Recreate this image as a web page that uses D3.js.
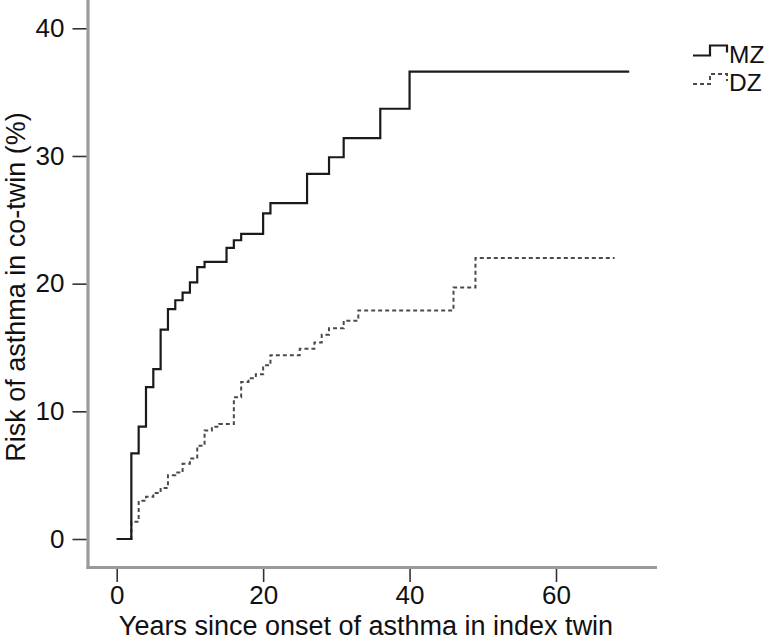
<!DOCTYPE html>
<html>
<head>
<meta charset="utf-8">
<script src="https://cdn.jsdelivr.net/npm/d3@7"></script>
<style>
  html, body { margin: 0; padding: 0; background: #fff; }
  svg { display: block; }
  text { font-family: "Liberation Sans", Arial, Helvetica, sans-serif; fill: #111; }
</style>
</head>
<body>
<svg id="chart" width="772" height="641"></svg>
<script>
// ---- Data ----
const mzYears = [0, 2, 3, 4, 5, 6, 7, 8, 9, 10, 11, 12, 15, 16, 17, 20, 21, 26, 29, 31, 36, 40, 70];
const mzRisk  = [0, 6.7, 8.8, 11.9, 13.3, 16.4, 18.0, 18.7, 19.3, 20.1, 21.3, 21.7, 22.8, 23.4, 23.9, 25.5, 26.3, 28.6, 29.9, 31.4, 33.7, 36.6, 36.6];

const dzYears = [0, 2, 3, 4, 5, 6, 7, 8, 9, 10, 11, 12, 13, 14, 16, 17, 18, 19, 20, 21, 25, 27, 28, 29, 31, 33, 46, 49, 68];
const dzRisk  = [0, 1.35, 3.0, 3.3, 3.6, 4.0, 5.0, 5.2, 5.9, 6.3, 7.3, 8.5, 8.8, 9.0, 11.1, 12.3, 12.6, 12.9, 13.6, 14.4, 14.9, 15.4, 16.0, 16.5, 17.1, 17.9, 19.7, 22.0, 22.0];

const xTicks = [0, 20, 40, 60];
const yTicks = [0, 10, 20, 30, 40];
const seriesNames = ["MZ", "DZ"];
const xTitle = "Years since onset of asthma in index twin";
const yTitle = "Risk of asthma in co-twin (%)";

// ---- Layout ----
const svg = d3.select("#chart");
const x = d3.scaleLinear().domain([0, 60]).range([116.7, 556]);
const y = d3.scaleLinear().domain([0, 40]).range([539, 28.3]);
const axisX = 88, axisY = 567.5, axisRight = 657;
const tickFont = 26, titleFont = 27, legendFont = 24.5;
const ff = '"Liberation Sans", Arial, Helvetica, sans-serif';

// Axis lines (thick grey)
svg.append("line").attr("x1", axisX).attr("x2", axisX).attr("y1", 0).attr("y2", axisY + 1.5)
  .attr("stroke", "#9a9a9a").attr("stroke-width", 3.2);
svg.append("line").attr("x1", axisX - 1.5).attr("x2", axisRight).attr("y1", axisY).attr("y2", axisY)
  .attr("stroke", "#9a9a9a").attr("stroke-width", 3.2);

// Y axis
const gy = svg.append("g").attr("transform", `translate(${axisX - 1.5},0)`)
  .call(d3.axisLeft(y).tickValues(yTicks).tickSize(14).tickPadding(8).tickFormat(d3.format("d")));
gy.select(".domain").remove();
gy.selectAll(".tick line").attr("stroke", "#333").attr("stroke-width", 1.6);
gy.selectAll(".tick text").attr("font-size", tickFont).attr("fill", "#111").attr("font-family", ff);

// X axis
const gx = svg.append("g").attr("transform", `translate(0,${axisY + 1.5})`)
  .call(d3.axisBottom(x).tickValues(xTicks).tickSize(13).tickPadding(4).tickFormat(d3.format("d")));
gx.select(".domain").remove();
gx.selectAll(".tick line").attr("stroke", "#333").attr("stroke-width", 1.6);
gx.selectAll(".tick text").attr("font-size", tickFont).attr("fill", "#111").attr("font-family", ff);

// Axis titles
svg.append("text").attr("x", 366).attr("y", 635).attr("text-anchor", "middle")
  .attr("font-size", titleFont).text(xTitle);
svg.append("text").attr("transform", "translate(25,287) rotate(-90)").attr("text-anchor", "middle")
  .attr("font-size", titleFont).text(yTitle);

// Step curves
const line = d3.line().x(d => x(d[0])).y(d => y(d[1])).curve(d3.curveStepAfter);
const mzData = mzYears.map((v, i) => [v, mzRisk[i]]);
const dzData = dzYears.map((v, i) => [v, dzRisk[i]]);

svg.append("path").datum(dzData).attr("d", line)
  .attr("fill", "none").attr("stroke", "#4a4a4a").attr("stroke-width", 2)
  .attr("stroke-dasharray", "4,3");
svg.append("path").datum(mzData).attr("d", line)
  .attr("fill", "none").attr("stroke", "#1a1a1a").attr("stroke-width", 2.2);

// Legend
const legend = svg.append("g");
const legendItems = [
  { name: seriesNames[0], y0: 55.5, dash: null, color: "#1a1a1a", w: 2.2 },
  { name: seriesNames[1], y0: 84, dash: "4,3", color: "#4a4a4a", w: 2 }
];
legendItems.forEach(it => {
  const p = d3.path();
  p.moveTo(693, it.y0); p.lineTo(710, it.y0); p.lineTo(710, it.y0 - 10);
  p.lineTo(727, it.y0 - 10); p.lineTo(727, it.y0 - 3);
  legend.append("path").attr("d", p.toString()).attr("fill", "none")
    .attr("stroke", it.color).attr("stroke-width", it.w)
    .attr("stroke-dasharray", it.dash);
  legend.append("text").attr("x", 729).attr("y", it.y0 + 7)
    .attr("font-size", legendFont).text(it.name);
});
</script>
</body>
</html>
